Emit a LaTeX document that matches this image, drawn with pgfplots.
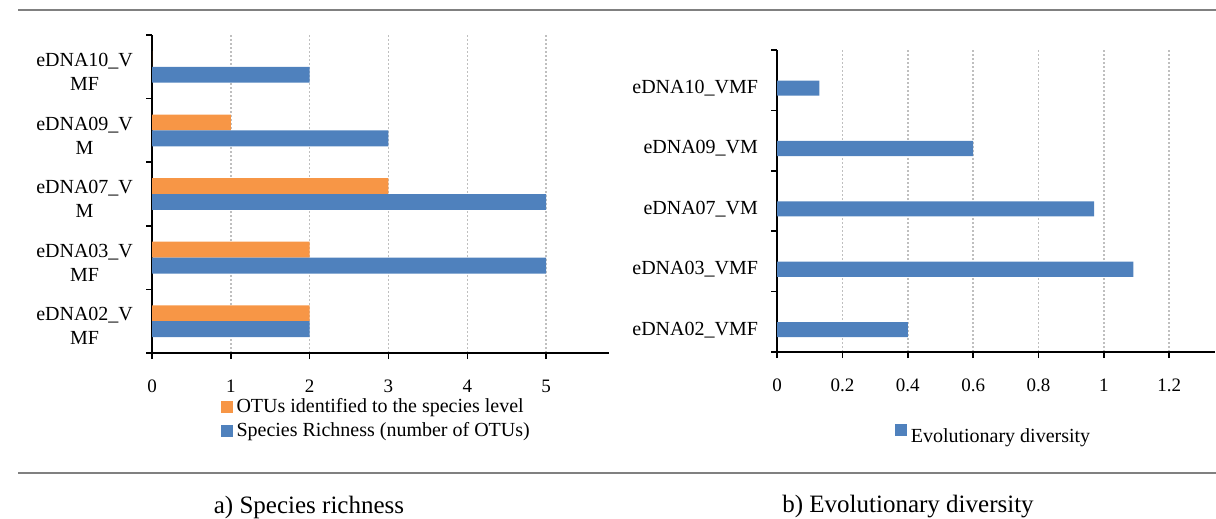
\documentclass[border=0pt]{standalone}
\usepackage{pgfplots}
\pgfplotsset{compat=1.18}
\usepackage{fontspec}
\setmainfont{Liberation Serif}
\definecolor{xblue}{RGB}{79,129,189}
\definecolor{xorange}{RGB}{247,150,70}
\definecolor{gridc}{RGB}{191,191,191}
\definecolor{rulec}{RGB}{128,128,128}
\pgfplotsset{
  common/.style={
    scale only axis, anchor=south west,
    xbar, bar width=0.25,
    axis lines=left, axis line style={-, line width=1pt, black},
    tick align=outside, major tick length=3pt, minor tick length=3pt,
    xtick style={black, line width=0.8pt},
    major y tick style={draw=none},
    minor y tick style={black, line width=0.8pt},
    xmajorgrids, major grid style={gridc, dash pattern=on 1pt off 1pt, line width=0.8pt},
    /pgf/number format/assume math mode=true,
    ticklabel style={font=\fontsize{9.5}{11}\selectfont},
    xticklabel style={yshift=-7pt},
    yticklabel style={font=\fontsize{10}{12}\selectfont, align=center, xshift=-3pt},
    legend style={draw=none, fill=none, font=\fontsize{10}{12}\selectfont, anchor=north west,
      row sep=0pt, column sep=1pt, inner sep=0pt, nodes={inner sep=1pt}},
    legend cell align=left,
  },
  sqa/.style={legend image code/.code={\fill[#1] (0pt,-3pt) rectangle (6pt,3pt);}},
  sqb/.style={legend image code/.code={\fill[#1] (0pt,0.5pt) rectangle (6pt,6.5pt);}},
}
\begin{document}
\begin{tikzpicture}
\useasboundingbox (0,0) rectangle (608pt,-259.5pt);
\draw[rulec, line width=1pt] (9pt,-5pt) -- (608pt,-5pt);
\draw[rulec, line width=1pt] (9pt,-236.5pt) -- (608pt,-236.5pt);
\node[font=\fontsize{12.5}{15}\selectfont] at (154.5pt,-253.5pt) {a) Species richness};
\node[font=\fontsize{12.5}{15}\selectfont] at (454pt,-253.5pt) {b) Evolutionary diversity};

\begin{axis}[common,
  at={(76pt,-176.5pt)}, width=228.6pt, height=159pt,
  xmin=0, xmax=5.8, ymin=-0.5, ymax=4.5,
  xtick={0,1,2,3,4,5},
  ytick={0,1,2,3,4},
  minor ytick={-0.5,0.5,1.5,2.5,3.5,4.5},
  yticklabels={{eDNA02\_V\\MF},{eDNA03\_V\\MF},{eDNA07\_V\\M},{eDNA09\_V\\M},{eDNA10\_V\\MF}},
  yticklabel style={yshift=-2.5pt},
  legend style={at={(0.149,-0.136)}, row sep=1.5pt},
]
\addplot[fill=xorange, draw=none, bar shift=0.125, sqa] coordinates {(2,0) (2,1) (3,2) (1,3) (0,4)};
\addlegendentry{OTUs identified to the species level}
\addplot[fill=xblue, draw=none, bar shift=-0.125, sqa] coordinates {(2,0) (5,1) (5,2) (3,3) (2,4)};
\addlegendentry{Species Richness (number of OTUs)}
\end{axis}

\begin{axis}[common,
  at={(388.5pt,-176pt)}, width=219pt, height=151pt,
  xmin=0, xmax=1.34, ymin=-0.37, ymax=4.63,
  xtick={0,0.2,0.4,0.6,0.8,1,1.2},
  ytick={0,1,2,3,4},
  minor ytick={-0.37,0.63,1.63,2.63,3.63,4.63},
  yticklabels={eDNA02\_VMF,eDNA03\_VMF,eDNA07\_VM,eDNA09\_VM,eDNA10\_VMF},
  legend style={at={(0.268,-0.238)}},
]
\addplot[fill=xblue, draw=none, bar shift=0, sqb] coordinates {(0.40,0) (1.09,1) (0.97,2) (0.60,3) (0.13,4)};
\addlegendentry{Evolutionary diversity}
\end{axis}
\end{tikzpicture}
\end{document}
